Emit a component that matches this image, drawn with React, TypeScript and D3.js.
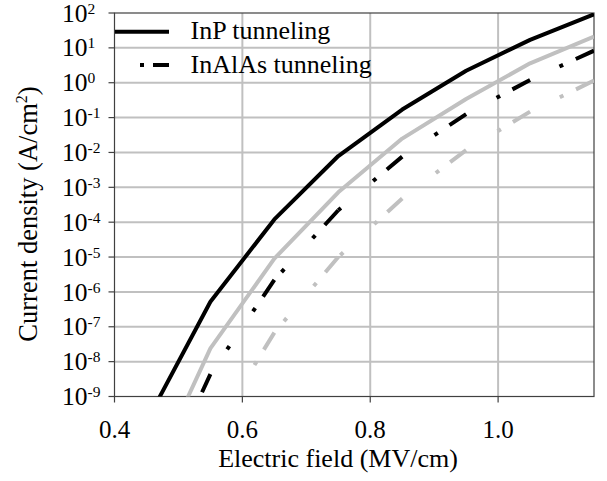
import React, { useRef, useEffect } from "react";
import * as d3 from "d3";

// field values (MV/cm) where the curves were computed
const fields = [0.45, 0.55, 0.65, 0.75, 0.85, 0.95, 1.05, 1.15];

// current density (A/cm^2)
const inpTunneling = [1.9e-10, 5.2e-7, 1.2e-4, 7.9e-3, 0.17, 2.2, 17, 92];
const inpGrey = [2.6e-12, 2.4e-8, 9e-6, 7.2e-4, 0.025, 0.34, 3.6, 21];
const inalasTunneling = [4.5e-13, 4.4e-9, 2.2e-6, 2.2e-4, 7.6e-3, 0.126, 1.2, 8.3];
const inalasGrey = [5e-14, 6.9e-11, 6.8e-8, 1e-5, 4.8e-4, 0.0117, 0.148, 1.15];

const xTicks = [0.4, 0.6, 0.8, 1.0];
const yExponents = [2, 1, 0, -1, -2, -3, -4, -5, -6, -7, -8, -9];

const legendItems = [
  { label: "InP tunneling", dashed: false },
  { label: "InAlAs tunneling", dashed: true },
];

const FONT = "Liberation Serif, Times New Roman, DejaVu Serif, serif";
const GRID = "#c0c0c0";

const App = () => {
  const svgRef = useRef<SVGSVGElement>(null);

  useEffect(() => {
    const width = 607;
    const height = 481;
    const left = 114.5, right = 594, top = 13, bottom = 396.5;

    const svg = d3.select(svgRef.current)
      .attr("width", width)
      .attr("height", height)
      .style("font-family", FONT);
    svg.selectAll("*").remove();

    const x = d3.scaleLinear().domain([0.4, 1.15]).range([left, right]);
    const y = d3.scaleLog().domain([1e-9, 1e2]).range([bottom, top]);

    svg.append("defs").append("clipPath").attr("id", "plot-clip")
      .append("rect")
      .attr("x", left).attr("y", top)
      .attr("width", right - left).attr("height", bottom - top);

    // grid
    const grid = svg.append("g");
    grid.selectAll(".hg")
      .data(yExponents.slice(1, -1))
      .enter().append("line")
      .attr("x1", left).attr("x2", right)
      .attr("y1", d => y(Math.pow(10, d))).attr("y2", d => y(Math.pow(10, d)))
      .attr("stroke", GRID).attr("stroke-width", 2);
    grid.selectAll(".vg")
      .data(xTicks.slice(1))
      .enter().append("line")
      .attr("x1", d => x(d)).attr("x2", d => x(d))
      .attr("y1", top).attr("y2", bottom)
      .attr("stroke", GRID).attr("stroke-width", 2);

    // frame
    svg.append("rect")
      .attr("x", left).attr("y", top)
      .attr("width", right - left).attr("height", bottom - top)
      .attr("fill", "none").attr("stroke", "#404040").attr("stroke-width", 1.2);

    // ticks
    svg.selectAll(".yt")
      .data(yExponents)
      .enter().append("line")
      .attr("x1", left - 6).attr("x2", left)
      .attr("y1", d => y(Math.pow(10, d))).attr("y2", d => y(Math.pow(10, d)))
      .attr("stroke", "#404040").attr("stroke-width", 1.2);
    svg.selectAll(".xt")
      .data(xTicks)
      .enter().append("line")
      .attr("x1", d => x(d)).attr("x2", d => x(d))
      .attr("y1", bottom).attr("y2", bottom + 6)
      .attr("stroke", "#404040").attr("stroke-width", 1.2);

    // y tick labels: 10^n
    const yl = svg.selectAll(".yl")
      .data(yExponents)
      .enter().append("text")
      .attr("x", 62)
      .attr("y", d => y(Math.pow(10, d)) + 8.6)
      .style("font-size", "25.5px");
    yl.append("tspan").text("10");
    yl.append("tspan")
      .attr("dy", -8)
      .style("font-size", "15.5px")
      .text(d => (d < 0 ? "-" : "") + Math.abs(d));

    // x tick labels
    svg.selectAll(".xl")
      .data(xTicks)
      .enter().append("text")
      .attr("x", d => x(d))
      .attr("y", 438)
      .attr("text-anchor", "middle")
      .style("font-size", "25px")
      .text(d => d.toFixed(1));

    // axis titles
    svg.append("text")
      .attr("x", 338).attr("y", 466.5)
      .attr("text-anchor", "middle")
      .style("font-size", "26px")
      .text("Electric field (MV/cm)");

    const yt = svg.append("text")
      .attr("transform", "translate(37,214) rotate(-90)")
      .attr("text-anchor", "middle")
      .style("font-size", "26.5px");
    yt.append("tspan").text("Current density (A/cm");
    yt.append("tspan").attr("dy", -10).style("font-size", "16px").text("2");
    yt.append("tspan").attr("dy", 10).text(")");

    const pts = (vals: number[]) => fields.map((f, i) => [f, vals[i]] as [number, number]);
    const line = d3.line<[number, number]>()
      .x(d => x(d[0]))
      .y(d => y(d[1]));

    const curves = svg.append("g").attr("clip-path", "url(#plot-clip)");

    const solid = (vals: number[], color: string) => {
      curves.append("path")
        .datum(pts(vals))
        .attr("fill", "none")
        .attr("stroke", color)
        .attr("stroke-width", 4)
        .attr("stroke-linejoin", "round")
        .attr("d", line);
    };

    // dash-dot-dot, pattern restarts at each vertex, drawn back from the upper end
    const dashed = (vals: number[], color: string) => {
      const p = pts(vals);
      const segs = d3.pairs(p).map(([a, b]) => [b, a]);
      curves.selectAll(null)
        .data(segs)
        .enter().append("path")
        .attr("fill", "none")
        .attr("stroke", color)
        .attr("stroke-width", 4)
        .attr("stroke-dasharray", "20,14,4,42,4,300")
        .attr("d", d => line(d as [number, number][]));
    };

    solid(inpGrey, GRID);
    dashed(inalasGrey, GRID);
    solid(inpTunneling, "#000");
    dashed(inalasTunneling, "#000");

    // legend
    const lg = svg.append("g");
    legendItems.forEach((item, i) => {
      const cy = 31.7 + i * 33.3;
      lg.append("line")
        .attr("x1", 169).attr("x2", 115)
        .attr("y1", cy).attr("y2", cy)
        .attr("stroke", "#000").attr("stroke-width", 4)
        .attr("stroke-dasharray", item.dashed ? "16,9,4,100" : null);
      lg.append("text")
        .attr("x", 190.5).attr("y", cy + 7.5)
        .style("font-size", "26px")
        .text(item.label);
    });
  }, []);

  return <svg ref={svgRef} style={{ display: "block", position: "absolute", left: 0, top: 0 }}></svg>;
};

export default App;
